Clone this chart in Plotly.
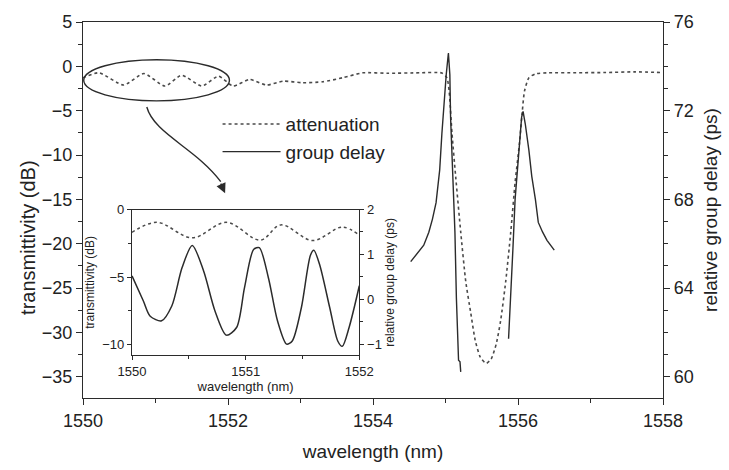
import plotly.graph_objects as go

# ---------------- data ----------------
att_wl = [1550.0, 1550.22, 1550.56, 1550.84, 1551.13, 1551.36, 1551.64, 1551.87,
          1552.07, 1552.30, 1552.53, 1552.76, 1553.03, 1553.31, 1553.58, 1553.86,
          1554.2, 1554.64, 1554.95, 1555.02, 1555.05, 1555.09, 1555.14, 1555.21,
          1555.28, 1555.35, 1555.41, 1555.48, 1555.56, 1555.63, 1555.70, 1555.76,
          1555.83, 1555.90, 1555.96, 1556.02, 1556.06, 1556.09, 1556.15, 1556.24,
          1556.42, 1556.8, 1557.2, 1557.6, 1558.0]
att_db = [-1.29, -0.73, -2.11, -0.81, -2.22, -1.0, -2.22, -1.11,
          -2.22, -1.48, -2.11, -1.67, -1.85, -1.74, -1.29, -0.73,
          -0.78, -0.73, -0.75, -1.3, -2.78, -7.6, -12.4, -18.7,
          -24.3, -27.9, -30.9, -32.8, -33.5, -33.0, -31.3, -28.7,
          -24.3, -18.7, -13.1, -8.7, -5.0, -2.78, -1.29, -0.85,
          -0.73, -0.72, -0.7, -0.62, -0.7]

gd_wl = [1554.52, 1554.61, 1554.70, 1554.77, 1554.82, 1554.87, 1554.90, 1554.92,
         1554.95, 1554.98, 1555.01, 1555.04, 1555.06, 1555.07, 1555.10, 1555.13,
         1555.15, 1555.18, 1555.20, 1555.21,
         None,
         1555.87, 1555.90, 1555.93, 1555.96, 1556.01, 1556.05, 1556.07, 1556.10,
         1556.15, 1556.19, 1556.24, 1556.28, 1556.34, 1556.40, 1556.50]
gd_ps = [65.19, 65.56, 65.93, 66.52, 67.11, 67.85, 68.6, 69.33,
         70.96, 72.44, 73.63, 74.6, 73.63, 71.71, 69.48, 66.52,
         63.56, 60.74, 60.67, 60.22,
         None,
         61.71, 63.56, 65.78, 68.0, 70.22, 71.71, 71.97, 71.41,
         70.22, 69.04, 68.0, 66.96, 66.52, 66.15, 65.71]

inset_att_wl = [1550.0, 1550.22, 1550.53, 1550.83, 1551.13, 1551.31, 1551.59, 1551.85, 1552.0]
inset_att_db = [-1.69, -0.95, -2.1, -0.95, -2.27, -1.14, -2.3, -1.3, -1.9]

inset_gd_wl = [1550.0, 1550.1, 1550.16, 1550.26, 1550.35, 1550.44, 1550.53, 1550.63,
               1550.73, 1550.83, 1550.92, 1550.99, 1551.07, 1551.12, 1551.2, 1551.28,
               1551.36, 1551.41, 1551.49, 1551.57, 1551.6, 1551.65, 1551.74, 1551.81,
               1551.85, 1551.91, 1552.0]
inset_gd_ps = [0.52, -0.04, -0.38, -0.48, -0.15, 0.7, 1.2, 0.63,
               -0.26, -0.8, -0.63, 0.26, 1.11, 1.15, 0.48, -0.48,
               -1.0, -0.93, -0.19, 0.98, 1.09, 0.78, -0.19, -0.93,
               -1.05, -0.63, 0.3]

main_x_ticks = [1550, 1552, 1554, 1556, 1558]
# ------------------------------------------------------------------

FONT = "Liberation Sans, Arial, sans-serif"
INK = "#2b2b2b"
DOT = "#4a4a4a"

fig = go.Figure()

fig.add_trace(go.Scatter(x=att_wl, y=att_db, mode="lines", name="attenuation",
                         line=dict(color=DOT, width=1.6, dash="dot", shape="spline", smoothing=0.6),
                         xaxis="x", yaxis="y"))
fig.add_trace(go.Scatter(x=gd_wl, y=gd_ps, mode="lines", name="group delay",
                         line=dict(color=INK, width=1.4), connectgaps=False,
                         xaxis="x", yaxis="y2"))
fig.add_trace(go.Scatter(x=inset_att_wl, y=inset_att_db, mode="lines", showlegend=False,
                         line=dict(color=DOT, width=1.5, dash="dot", shape="spline", smoothing=1),
                         xaxis="x3", yaxis="y3"))
fig.add_trace(go.Scatter(x=inset_gd_wl, y=inset_gd_ps, mode="lines", showlegend=False,
                         line=dict(color=INK, width=1.5, shape="spline", smoothing=0.8),
                         xaxis="x3", yaxis="y4"))

axis_common = dict(showline=True, linecolor=INK, linewidth=1.3, ticks="outside",
                   tickcolor=INK, showgrid=False, zeroline=False,
                   tickfont=dict(family=FONT, size=18, color="#222"))

ins_dom_x = [0.0845, 0.4764]
ins_dom_y = [0.1135, 0.5013]

fig.update_layout(
    width=729, height=470,
    margin=dict(l=82.5, r=64, t=16.7, b=71.7),
    plot_bgcolor="white", paper_bgcolor="white",
    font=dict(family=FONT, color="#222"),
    xaxis=dict(axis_common, range=[1550, 1558], tickvals=main_x_ticks, ticklen=6,
               mirror=True, minor=dict(dtick=1, ticklen=4, ticks="outside", tickcolor=INK),
               title=dict(text="wavelength (nm)", font=dict(size=19), standoff=14)),
    yaxis=dict(axis_common, range=[-37.4, 5], tick0=0, dtick=5, ticklen=6,
               minor=dict(dtick=2.5, ticklen=4, ticks="outside", tickcolor=INK)),
    yaxis2=dict(axis_common, range=[59.04, 76], tick0=0, dtick=4, ticklen=6, side="right",
                overlaying="y", anchor="x",
                minor=dict(dtick=1, ticklen=4, ticks="outside", tickcolor=INK),
                title=dict(text="relative group delay (ps)", font=dict(size=19), standoff=10)),
    xaxis3=dict(axis_common, domain=ins_dom_x, anchor="y3", range=[1550, 1552],
                tickvals=[1550, 1551, 1552], ticklen=4, mirror=True,
                tickfont=dict(family=FONT, size=13, color="#222"),
                minor=dict(dtick=0.5, ticklen=3, ticks="outside", tickcolor=INK),
                title=dict(text="wavelength (nm)", font=dict(size=13), standoff=2)),
    yaxis3=dict(axis_common, domain=ins_dom_y, anchor="x3", range=[-10.8, 0],
                tick0=0, dtick=5, ticklen=4,
                tickfont=dict(family=FONT, size=13, color="#222"),
                minor=dict(dtick=2.5, ticklen=3, ticks="outside", tickcolor=INK),
                title=dict(text="transmittivity (dB)", font=dict(size=12), standoff=4)),
    yaxis4=dict(axis_common, range=[-1.25, 2], overlaying="y3", anchor="x3", side="right",
                tick0=0, dtick=1, ticklen=4,
                tickfont=dict(family=FONT, size=13, color="#222"),
                minor=dict(dtick=0.5, ticklen=3, ticks="outside", tickcolor=INK),
                title=dict(text="relative group delay (ps)", font=dict(size=12), standoff=4)),
    legend=dict(x=0.232, y=0.779, xanchor="left", yanchor="top",
                font=dict(family=FONT, size=19, color="#222"),
                bgcolor="rgba(0,0,0,0)", itemwidth=58, tracegroupgap=0),
    showlegend=True,
)

# left axis title (placed slightly below centre, as in the original)
fig.add_annotation(text="transmittivity (dB)", textangle=-90, xref="paper", yref="paper",
                   x=-0.0953, y=0.425, xanchor="center", yanchor="middle", showarrow=False,
                   font=dict(family=FONT, size=20, color="#222"))

# ellipse marking the region shown in the inset
fig.add_shape(type="circle", xref="x", yref="y", x0=1550.01, x1=1552.02, y0=-3.89, y1=0.74,
              line=dict(color=INK, width=1.4))
# curved arrow from the ellipse to the inset
fig.add_shape(type="path", xref="x", yref="y",
              path="M 1550.88,-4.59 C 1550.98,-7.6 1551.55,-9.2 1551.9,-13.0",
              line=dict(color=INK, width=1.4))
fig.add_annotation(x=1551.96, y=-14.3, xref="x", yref="y", text="", showarrow=True,
                   ax=-5, ay=-11, arrowhead=2, arrowsize=1.4, arrowwidth=1.4, arrowcolor=INK)

fig.write_html("out.html")
